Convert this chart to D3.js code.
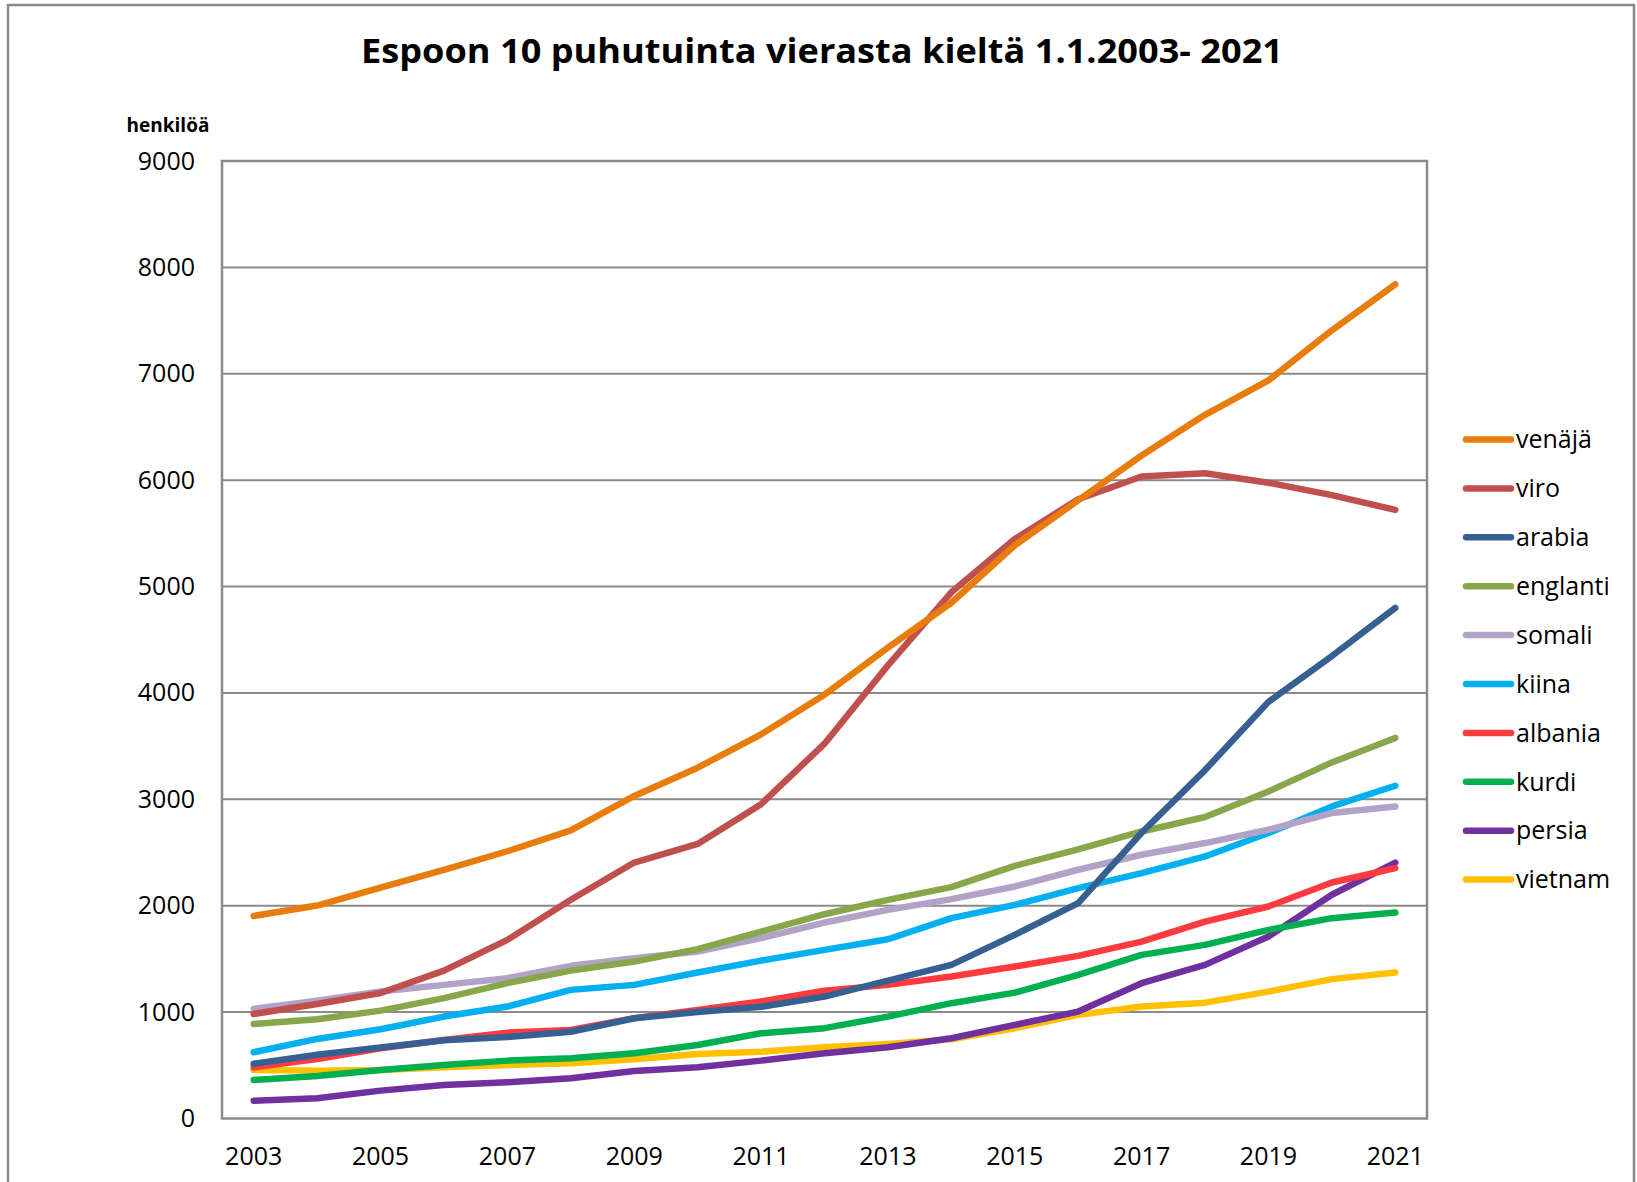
<!DOCTYPE html>
<html>
<head>
<meta charset="utf-8">
<script src="https://cdn.jsdelivr.net/npm/d3@7"></script>
<style>
  html, body { margin: 0; padding: 0; background: #fff; }
  svg { display: block; }
</style>
</head>
<body>
<svg id="chart" width="1637" height="1182"></svg>
<script>
const title = "Espoon 10 puhutuinta vierasta kieltä 1.1.2003- 2021";
const yLabel = "henkilöä";
const years = [2003,2004,2005,2006,2007,2008,2009,2010,2011,2012,2013,2014,2015,2016,2017,2018,2019,2020,2021];
const xTickYears = [2003,2005,2007,2009,2011,2013,2015,2017,2019,2021];
const yTicks = [0,1000,2000,3000,4000,5000,6000,7000,8000,9000];
const seriesNames = ["venäjä","viro","arabia","englanti","somali","kiina","albania","kurdi","persia","vietnam"];
const seriesColors = ["#E87D0E","#C0504D","#376092","#88A64A","#B2A2C7","#00B0F0","#FF3B3F","#00B050","#7030A0","#FFC000"];

const venaja   = [1904,2002,2169,2336,2512,2708,3032,3297,3611,3984,4426,4848,5388,5810,6232,6614,6938,7409,7841];
const viro     = [983,1077,1180,1390,1679,2056,2406,2581,2954,3523,4259,4946,5447,5820,6035,6065,5976,5859,5721];
const arabia   = [515,600,667,736,765,815,942,1001,1050,1146,1296,1444,1726,2024,2686,3275,3916,4347,4799];
const englanti = [889,933,1014,1131,1272,1390,1475,1592,1757,1920,2055,2175,2375,2530,2698,2834,3074,3347,3577];
const somali   = [1030,1108,1193,1256,1319,1435,1507,1570,1695,1842,1961,2062,2181,2338,2479,2589,2714,2871,2933];
const kiina    = [623,748,839,958,1052,1209,1256,1372,1484,1585,1685,1883,2008,2166,2307,2463,2683,2933,3128];
const albania  = [482,560,660,738,807,833,943,1021,1099,1202,1256,1334,1428,1529,1663,1851,1993,2218,2354];
const kurdi    = [362,400,456,503,544,566,613,691,801,849,958,1084,1183,1350,1538,1632,1773,1883,1936];
const persia   = [167,190,262,315,341,378,447,482,544,613,670,754,880,1005,1272,1444,1710,2103,2406];
const vietnam  = [456,450,456,482,503,519,557,607,628,670,701,745,849,974,1052,1089,1193,1310,1372];

const seriesValues = [venaja, viro, arabia, englanti, somali, kiina, albania, kurdi, persia, vietnam];

const svg = d3.select("#chart");
const FONT = "'Open Sans', 'Liberation Sans', sans-serif";

// outer frame
svg.append("rect")
  .attr("x", 8).attr("y", 5).attr("width", 1626).attr("height", 1200)
  .attr("fill", "#fff").attr("stroke", "#888").attr("stroke-width", 2.5);

const plot = {left: 222, top: 161, right: 1427, bottom: 1118.5};

const x = d3.scaleBand().domain(years).range([plot.left, plot.right]).padding(0);
const y = d3.scaleLinear().domain([0, 9000]).range([plot.bottom, plot.top]);
const xc = d => x(d) + x.bandwidth() / 2;

// title
svg.append("text")
  .attr("x", 822).attr("y", 63)
  .attr("text-anchor", "middle")
  .attr("font-family", FONT).attr("font-weight", "bold").attr("font-size", 34)
  .attr("textLength", 922).attr("lengthAdjust", "spacingAndGlyphs")
  .attr("fill", "#000")
  .text(title);

// y label
svg.append("text")
  .attr("x", 168).attr("y", 132)
  .attr("text-anchor", "middle")
  .attr("font-family", FONT).attr("font-weight", "bold").attr("font-size", 19)
  .attr("fill", "#000")
  .text(yLabel);

// gridlines
svg.append("g").selectAll("line").data(yTicks.filter(t => t > 0)).join("line")
  .attr("x1", plot.left).attr("x2", plot.right)
  .attr("y1", d => y(d)).attr("y2", d => y(d))
  .attr("stroke", "#8a8a8a").attr("stroke-width", 2);

// plot border
svg.append("rect")
  .attr("x", plot.left).attr("y", plot.top)
  .attr("width", plot.right - plot.left).attr("height", plot.bottom - plot.top)
  .attr("fill", "none").attr("stroke", "#8a8a8a").attr("stroke-width", 2.5);

// y axis labels
const yAxis = d3.axisLeft(y).tickValues(yTicks).tickSize(0).tickPadding(27).tickFormat(d3.format("d"));
const yg = svg.append("g").attr("transform", `translate(${plot.left},0)`).call(yAxis);
yg.select(".domain").remove();
yg.selectAll("text").attr("font-family", FONT).attr("font-size", 25).attr("fill", "#000");

// x axis labels
const xAxis = d3.axisBottom(x).tickValues(xTickYears).tickSize(0).tickPadding(29).tickFormat(d3.format("d"));
const xg = svg.append("g").attr("transform", `translate(0,${plot.bottom})`).call(xAxis);
xg.select(".domain").remove();
xg.selectAll("text").attr("font-family", FONT).attr("font-size", 25).attr("fill", "#000");

// lines (draw in reverse so venäjä on top)
const line = d3.line().x((d, i) => xc(years[i])).y(d => y(d));
const order = d3.range(seriesNames.length).reverse();
svg.append("g").selectAll("path").data(order).join("path")
  .attr("d", i => line(seriesValues[i]))
  .attr("fill", "none")
  .attr("stroke", i => seriesColors[i])
  .attr("stroke-width", 6.5)
  .attr("stroke-linejoin", "round")
  .attr("stroke-linecap", "round");

// legend
const lg = svg.append("g");
const legY0 = 439.5, legStep = 48.9;
const items = lg.selectAll("g").data(seriesNames).join("g")
  .attr("transform", (d, i) => `translate(0,${legY0 + i * legStep})`);
items.append("line")
  .attr("x1", 1466).attr("x2", 1511).attr("y1", 0).attr("y2", 0)
  .attr("stroke", (d, i) => seriesColors[i]).attr("stroke-width", 6.5)
  .attr("stroke-linecap", "round");
items.append("text")
  .attr("x", 1516).attr("y", 0).attr("dy", "0.35em")
  .attr("font-family", FONT).attr("font-size", 25).attr("fill", "#000")
  .text(d => d);
</script>
</body>
</html>
